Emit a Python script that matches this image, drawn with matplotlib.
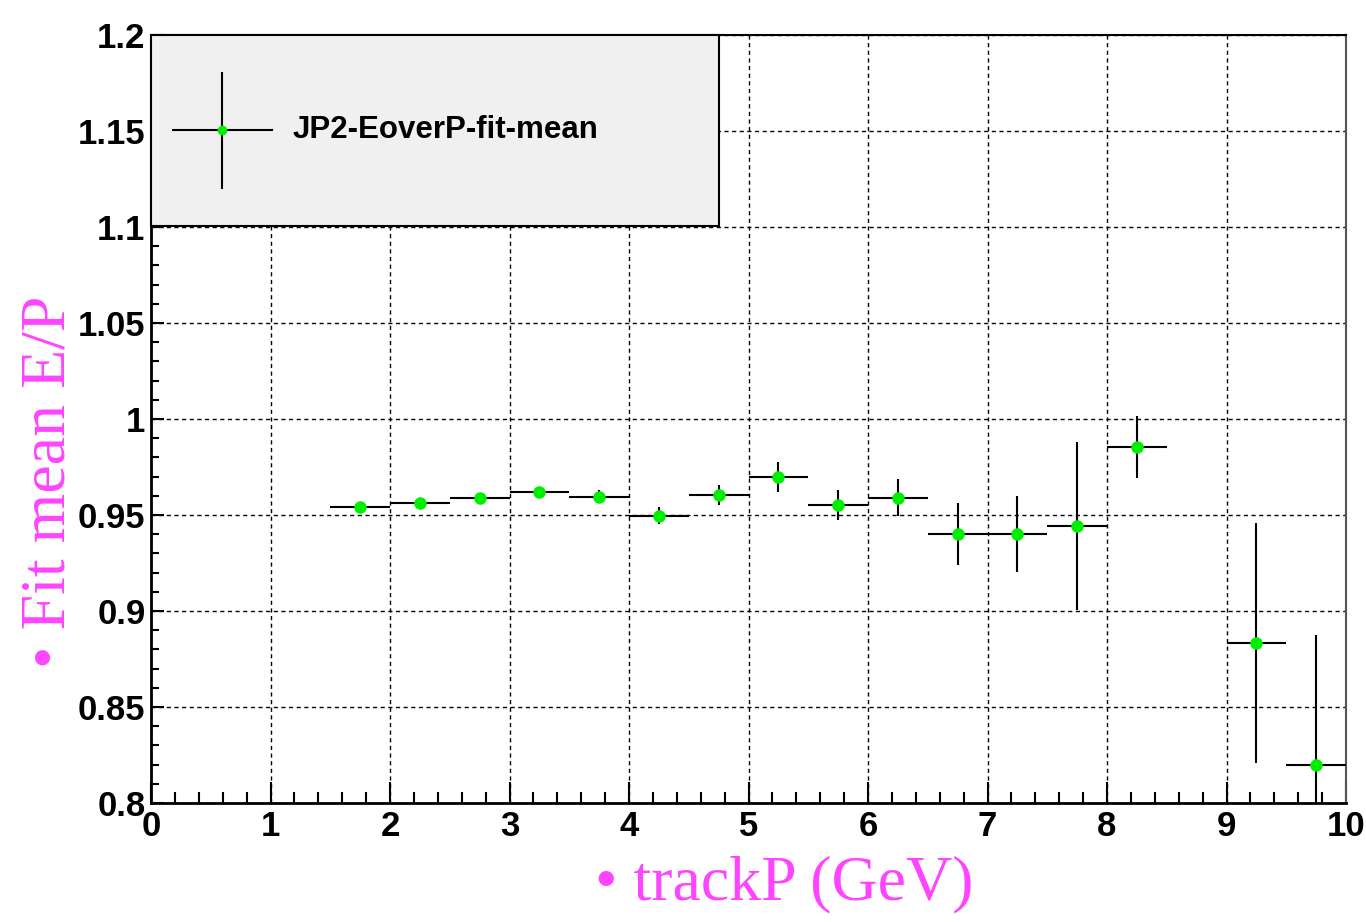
import numpy as np
import matplotlib
matplotlib.use("Agg")
import matplotlib.pyplot as plt
from matplotlib.ticker import MultipleLocator, FuncFormatter
from matplotlib.patches import Rectangle
from matplotlib.lines import Line2D

# trackP bin centres (GeV), fitted mean E/P and errors
track_p = [1.75, 2.25, 2.75, 3.25, 3.75, 4.25, 4.75, 5.25, 5.75, 6.25,
           6.75, 7.25, 7.75, 8.25, 9.25, 9.75]
mean_ep = [0.954, 0.956, 0.959, 0.962, 0.9595, 0.9497, 0.9604, 0.9696, 0.955, 0.959,
           0.9402, 0.9402, 0.9444, 0.9855, 0.8832, 0.8198]
err_ep = [0.0012, 0.0012, 0.0015, 0.002, 0.0035, 0.0043, 0.0052, 0.0078, 0.0078, 0.0095,
          0.0163, 0.0198, 0.0438, 0.016, 0.0625, 0.0677]
bin_half = [0.25] * len(track_p)

legend_label = "JP2-EoverP-fit-mean"
xlabel = "\u2022 trackP (GeV)"
ylabel = "\u2022 Fit mean E/P"
magenta = "#ff44ff"

fig = plt.figure(figsize=(13.66, 9.22), dpi=100)
ax = fig.add_axes([151 / 1366, 1 - 803 / 922, (1346 - 151) / 1366, (803 - 35) / 922])

ax.errorbar(track_p, mean_ep, xerr=bin_half, yerr=err_ep, fmt="o", color="#00ee00",
            markersize=9, markeredgewidth=0, ecolor="black", elinewidth=1.5,
            capsize=3.5, capthick=1.5, zorder=3)

ax.set_xlim(0, 10)
ax.set_ylim(0.8, 1.2)
ax.xaxis.set_major_locator(MultipleLocator(1))
ax.xaxis.set_minor_locator(MultipleLocator(0.2))
ax.yaxis.set_major_locator(MultipleLocator(0.05))
ax.yaxis.set_minor_locator(MultipleLocator(0.01))
ax.yaxis.set_major_formatter(FuncFormatter(lambda v, p: "%g" % round(v, 3)))
ax.xaxis.set_major_formatter(FuncFormatter(lambda v, p: "%g" % v))

ax.grid(True, which="major", color="black", linestyle=(0, (3, 2.5)), linewidth=1.0)
ax.tick_params(axis="x", which="major", direction="in", length=15, width=1.5, pad=5)
ax.tick_params(axis="x", which="minor", direction="in", length=8, width=1.5)
ax.tick_params(axis="y", which="major", direction="in", length=9, width=1.5, pad=4)
ax.tick_params(axis="y", which="minor", direction="in", length=6, width=1.5)
for lab in ax.get_xticklabels() + ax.get_yticklabels():
    lab.set_fontfamily("Liberation Sans")
    lab.set_fontweight("bold")
    lab.set_fontsize(25)

for s in ["left", "bottom"]:
    ax.spines[s].set_linewidth(2)
    ax.spines[s].set_color("black")
ax.spines["top"].set_linewidth(1.5)
ax.spines["right"].set_linewidth(1.5)
ax.spines["right"].set_color("#555555")

ax.set_xlabel(xlabel, fontsize=46, color=magenta, family="Liberation Serif")
ax.set_ylabel(ylabel, fontsize=46, color=magenta, family="Liberation Serif")
ax.xaxis.set_label_coords(0.53, -0.068)
ax.yaxis.set_label_coords(-0.061, 0.418)

# legend box (ROOT style)
lx0, ly0 = 0.0, 1 - (226 - 35) / 768
lw_, lh_ = (719 - 151) / 1195, (226 - 35) / 768
ax.add_patch(Rectangle((lx0, ly0), lw_, lh_, transform=ax.transAxes, facecolor="#f0f0f0",
                       edgecolor="black", linewidth=1.5, zorder=5, clip_on=False))
cx, cy = (222 - 151) / 1195, 1 - (130 - 35) / 768
ax.add_line(Line2D([(173 - 151) / 1195, (272 - 151) / 1195], [cy, cy], transform=ax.transAxes,
                   color="black", linewidth=1.5, zorder=6))
ax.add_line(Line2D([cx, cx], [1 - (73 - 35) / 768, 1 - (188 - 35) / 768], transform=ax.transAxes,
                   color="black", linewidth=1.5, zorder=6))
ax.add_line(Line2D([cx], [cy], transform=ax.transAxes, marker="o", color="#00ee00",
                   markersize=7, markeredgewidth=0, zorder=7))
ax.text((293 - 151) / 1195, cy, legend_label, transform=ax.transAxes, fontsize=22.5,
        fontweight="bold", family="Liberation Sans", va="center", ha="left", zorder=7)

fig.savefig("out.png", dpi=100)
